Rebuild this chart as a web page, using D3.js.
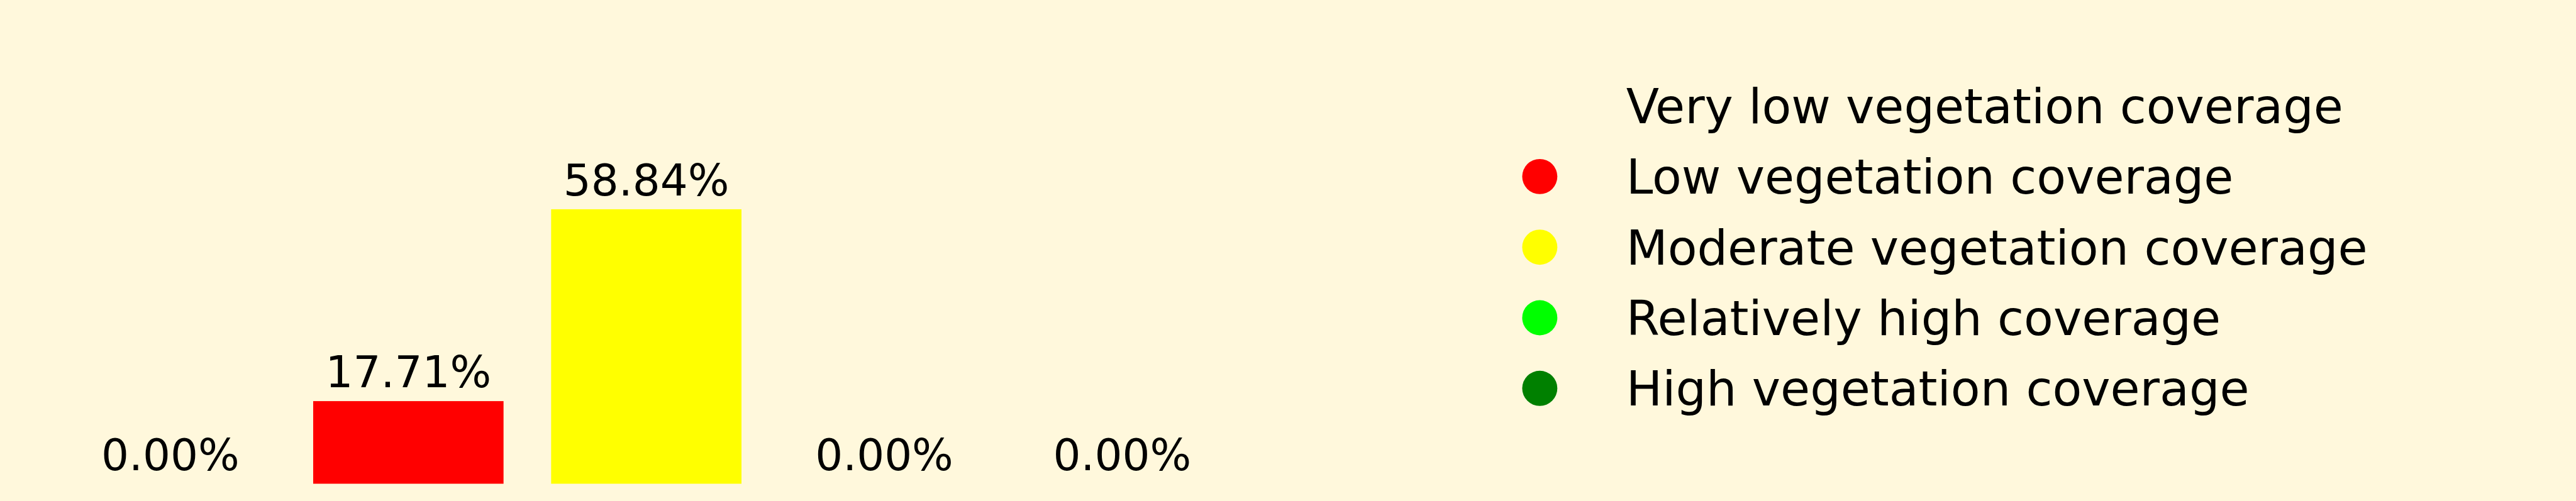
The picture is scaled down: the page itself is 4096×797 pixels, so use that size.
<!DOCTYPE html>
<html>
<head>
<meta charset="utf-8">
<script src="https://cdn.jsdelivr.net/npm/d3@7"></script>
<style>
  html, body { margin: 0; padding: 0; background: #FFF8DC; overflow: hidden; }
  svg { display: block; }
  text { font-family: "DejaVu Sans", sans-serif; fill: #000; }
</style>
</head>
<body>
<svg id="chart"></svg>
<script>
// ---- data ----
const categories = [
  "Very low vegetation coverage",
  "Low vegetation coverage",
  "Moderate vegetation coverage",
  "Relatively high coverage",
  "High vegetation coverage"
];
const values = [0.00, 17.71, 58.84, 0.00, 0.00];
const colors = ["#FFF8DC", "#FF0000", "#FFFF00", "#00FF00", "#008000"];

// ---- layout (reference pixel space, scaled by viewBox) ----
const W = 4470, H = 870;
const svg = d3.select("#chart")
  .attr("width", 4096).attr("height", 797)
  .attr("viewBox", `0 0 ${W} ${H}`);

svg.append("rect").attr("x", 0).attr("y", 0).attr("width", W).attr("height", H).attr("fill", "#FFF8DC");

const x = d3.scaleBand()
  .domain(categories)
  .range([88.7, 2153.7])
  .paddingInner(0.2)
  .paddingOuter(0.1);

const y = d3.scaleLinear()
  .domain([0, 60])
  .range([840, 840 - 60 * 8.1]);

const data = categories.map((c, i) => ({ c, v: values[i], col: colors[i] }));

svg.append("g").selectAll("rect")
  .data(data).join("rect")
  .attr("x", d => x(d.c))
  .attr("width", x.bandwidth())
  .attr("y", d => y(d.v))
  .attr("height", d => y(0) - y(d.v))
  .attr("fill", d => d.col);

svg.append("g").selectAll("text")
  .data(data).join("text")
  .attr("x", d => x(d.c) + x.bandwidth() / 2)
  .attr("y", d => y(d.v) - 24)
  .attr("text-anchor", "middle")
  .attr("font-size", 75.5)
  .text(d => d.v.toFixed(2) + "%");

// ---- legend ----
const leg = d3.scaleBand().domain(categories).range([214 - 61.3, 214 - 61.3 + 5 * 122.6]);
const lg = svg.append("g");
const items = lg.selectAll("g").data(data).join("g")
  .attr("transform", d => `translate(0, ${leg(d.c) + leg.bandwidth() / 2})`);
items.append("circle")
  .attr("cx", 2672).attr("cy", -30).attr("r", 30.5)
  .attr("fill", d => d.col);
items.append("text")
  .attr("x", 2822).attr("y", 0)
  .attr("font-size", 83.5)
  .text(d => d.c);
</script>
</body>
</html>
